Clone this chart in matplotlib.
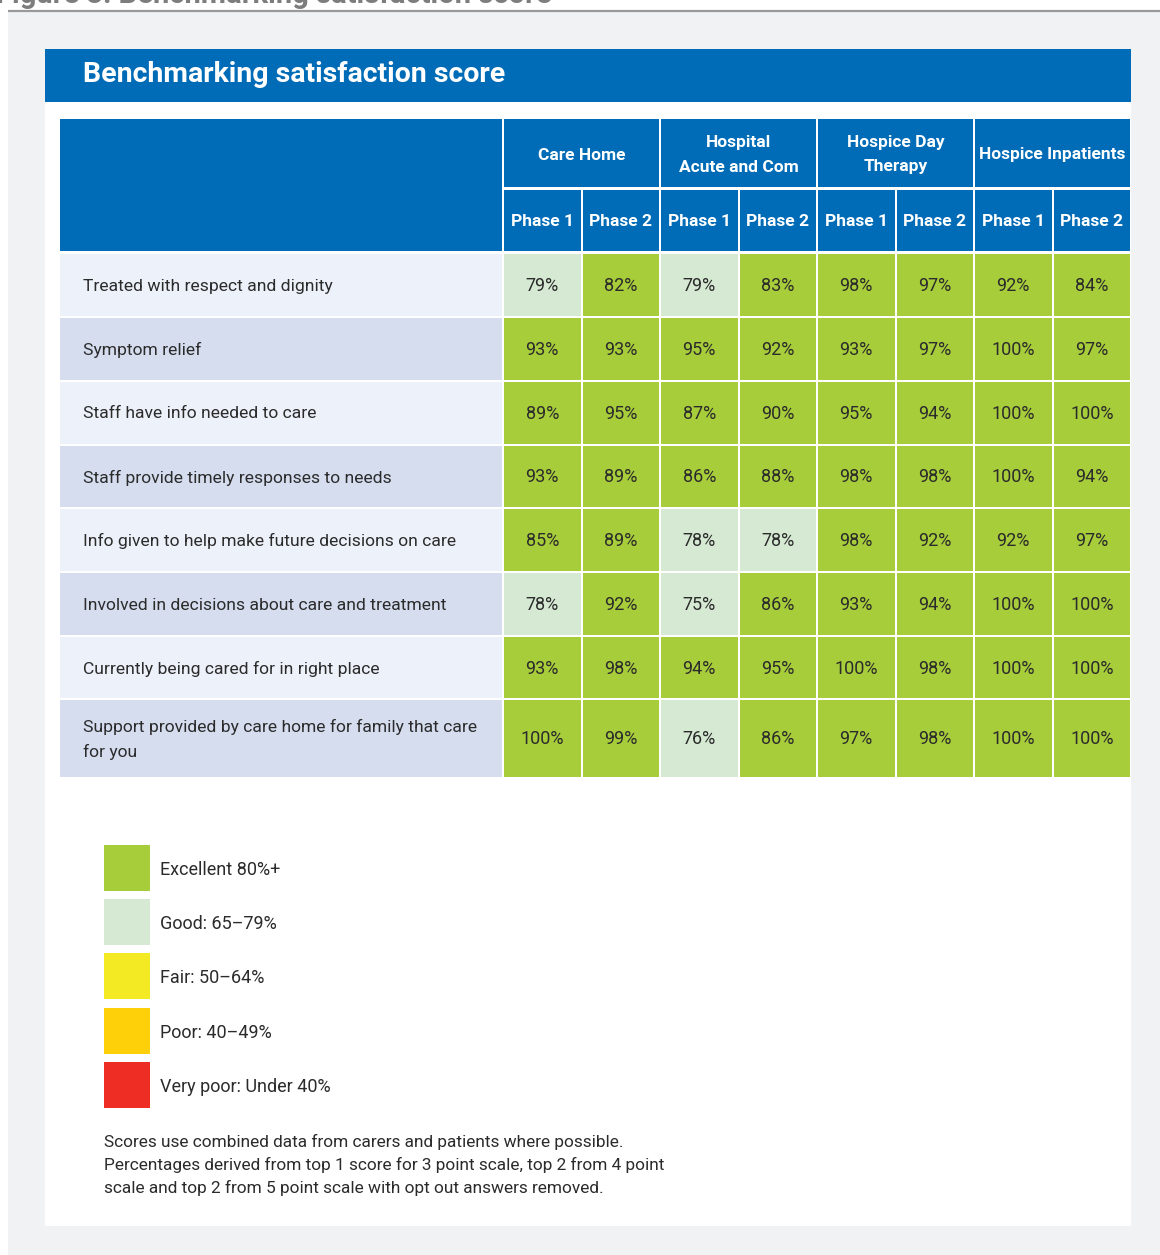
import numpy as np
import matplotlib.pyplot as plt
from matplotlib.patches import Rectangle

# data
groups = ["Care Home", "Hospital\nAcute and Com", "Hospice Day\nTherapy", "Hospice Inpatients"]
phases = ["Phase 1", "Phase 2"]
questions = [
    "Treated with respect and dignity",
    "Symptom relief",
    "Staff have info needed to care",
    "Staff provide timely responses to needs",
    "Info given to help make future decisions on care",
    "Involved in decisions about care and treatment",
    "Currently being cared for in right place",
    "Support provided by care home for family that care\nfor you",
]
scores = [
    [79, 82, 79, 83, 98, 97, 92, 84],
    [93, 93, 95, 92, 93, 97, 100, 97],
    [89, 95, 87, 90, 95, 94, 100, 100],
    [93, 89, 86, 88, 98, 98, 100, 94],
    [85, 89, 78, 78, 98, 92, 92, 97],
    [78, 92, 75, 86, 93, 94, 100, 100],
    [93, 98, 94, 95, 100, 98, 100, 100],
    [100, 99, 76, 86, 97, 98, 100, 100],
]
band_labels = ["Excellent 80%+", "Good: 65\u201379%", "Fair: 50\u201364%",
               "Poor: 40\u201349%", "Very poor: Under 40%"]
band_lower = [80, 65, 50, 40, 0]
band_colors = ["#a8cd3a", "#d6ead3", "#f4ea23", "#fdd00a", "#ee2e24"]
footnote = ("Scores use combined data from carers and patients where possible.\n"
            "Percentages derived from top 1 score for 3 point scale, top 2 from 4 point\n"
            "scale and top 2 from 5 point scale with opt out answers removed.")

FONT = ["Roboto", "DejaVu Sans"]
BLUE = "#006bb6"
TXT = "#2b2b2b"


def band_color(v):
    for lo, c in zip(band_lower, band_colors):
        if v >= lo:
            return c
    return band_colors[-1]


fig = plt.figure(figsize=(11.6, 12.55), dpi=100)
ax = fig.add_axes([0, 0, 1, 1])
ax.set_xlim(0, 1160)
ax.set_ylim(1255, 0)
ax.axis("off")

# page background, cut-off figure caption and rule
ax.text(-4, 3, "Figure 3: Benchmarking satisfaction score", fontsize=21, fontweight="bold",
        color="#7d7d7d", va="baseline", family=FONT)
ax.add_patch(Rectangle((8, 12), 1152, 1243, color="#f1f2f4", lw=0))
ax.plot([8, 1160], [10.5, 10.5], color="#9a9a9a", lw=1.6, solid_capstyle="butt")
ax.add_patch(Rectangle((45, 49), 1086, 1177, color="white", lw=0))

# title bar
ax.add_patch(Rectangle((45, 49), 1086, 53, color=BLUE, lw=0))
ax.text(83, 75, "Benchmarking satisfaction score", fontsize=20.5, fontweight="bold",
        color="white", va="center", family=FONT)

# table geometry
col_edges = np.linspace(503, 1131, 9)
row_edges = [253, 317, 381, 445, 508, 572, 636, 699, 778]
gap = 1

# header
ax.add_patch(Rectangle((60, 119), 503 - 60 - gap, 251 - 119, color=BLUE, lw=0))
for g, name in enumerate(groups):
    x0, x1 = col_edges[2 * g], col_edges[2 * g + 2]
    ax.add_patch(Rectangle((x0 + gap, 119), x1 - x0 - 2 * gap, 188 - 119 - gap, color=BLUE, lw=0))
    ax.text((x0 + x1) / 2, 155, name, ha="center", va="center", fontsize=12.5,
            fontweight="bold", color="white", family=FONT, linespacing=1.75)
for j in range(8):
    x0, x1 = col_edges[j], col_edges[j + 1]
    ax.add_patch(Rectangle((x0 + gap, 189 + gap), x1 - x0 - 2 * gap, 251 - 189 - gap, color=BLUE, lw=0))
    ax.text((x0 + x1) / 2, 221, phases[j % 2], ha="center", va="center", fontsize=12.5,
            fontweight="bold", color="white", family=FONT)

# body rows
for i, q in enumerate(questions):
    y0, y1 = row_edges[i], row_edges[i + 1]
    shade = "#edf2fa" if i % 2 == 0 else "#d5ddef"
    ax.add_patch(Rectangle((60, y0 + gap), 503 - 60 - gap, y1 - y0 - 2 * gap, color=shade, lw=0))
    ax.text(83, (y0 + y1) / 2 + 1, q, va="center", ha="left", fontsize=12.6, color=TXT,
            family=FONT, linespacing=1.65)
    for j, v in enumerate(scores[i]):
        x0, x1 = col_edges[j], col_edges[j + 1]
        ax.add_patch(Rectangle((x0 + gap, y0 + gap), x1 - x0 - 2 * gap, y1 - y0 - 2 * gap,
                               color=band_color(v), lw=0))
        ax.text((x0 + x1) / 2, (y0 + y1) / 2 + 1, f"{v}%", ha="center", va="center",
                fontsize=13, color=TXT, family=FONT)

# legend
for k, (lab, c) in enumerate(zip(band_labels, band_colors)):
    y = 845 + 54.2 * k
    ax.add_patch(Rectangle((104, y), 46, 46, color=c, lw=0))
    ax.text(160, y + 25, lab, va="center", ha="left", fontsize=13, color=TXT, family=FONT)

ax.text(104, 1165, footnote, va="center", ha="left", fontsize=12.4, color=TXT,
        family=FONT, linespacing=1.55)

fig.savefig("out.png", dpi=100, facecolor="white")
